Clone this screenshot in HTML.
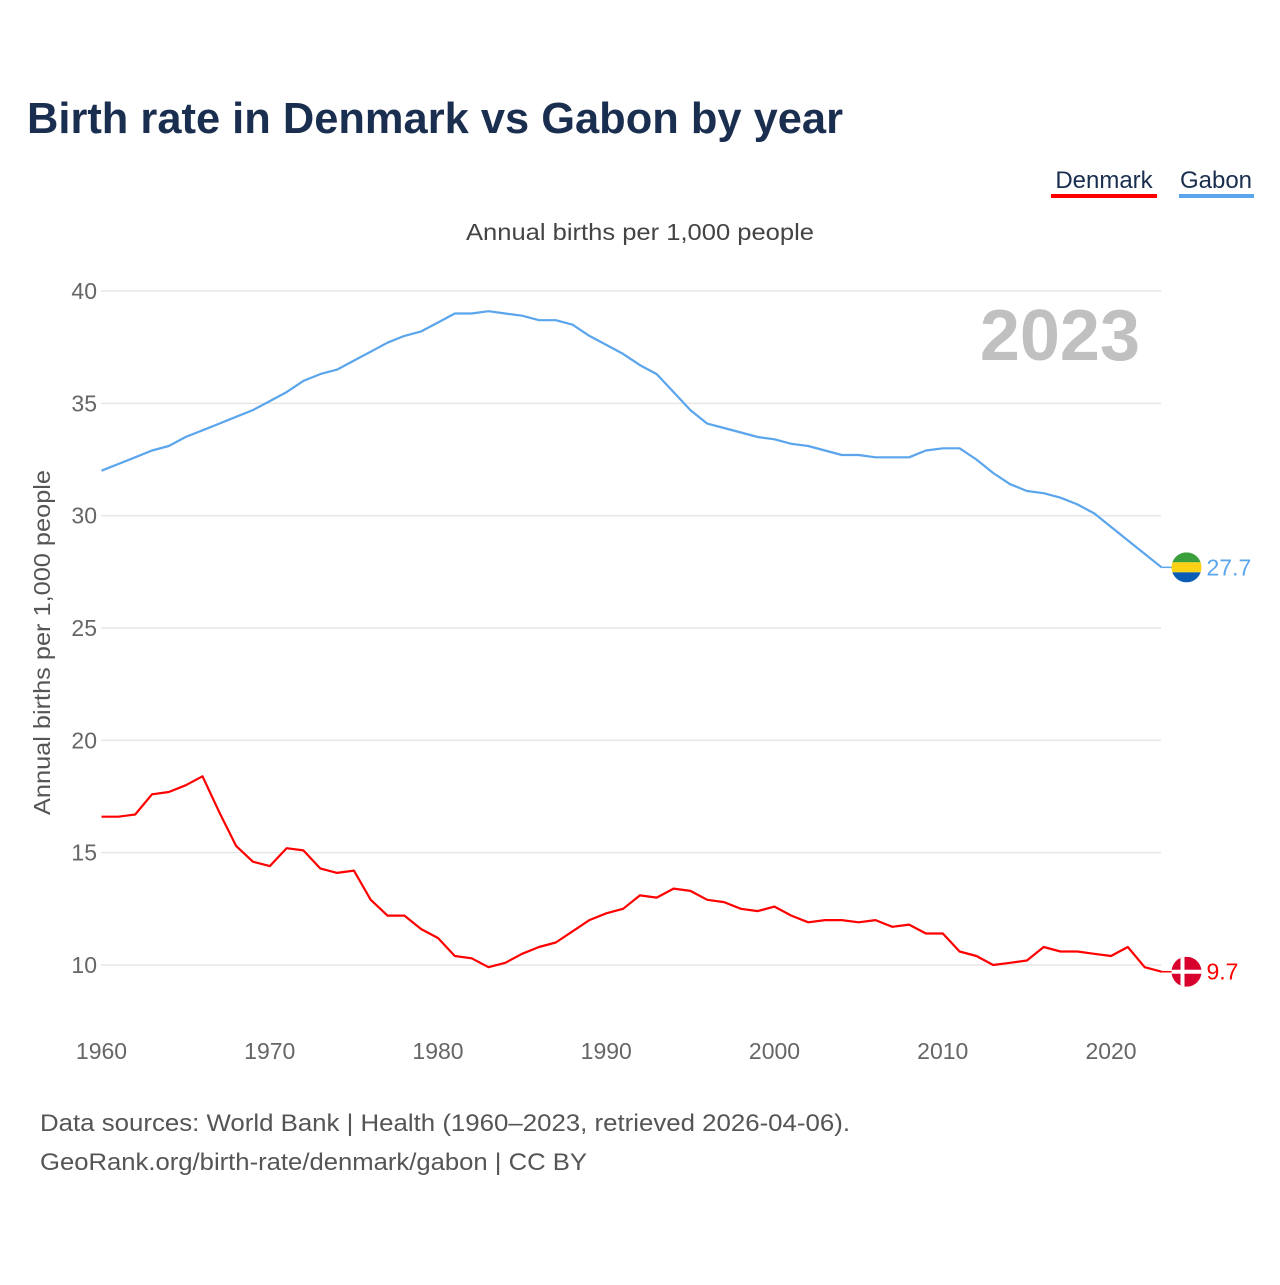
<!DOCTYPE html>
<html><head><meta charset="utf-8">
<style>
body{margin:0;background:#fff;font-family:"Liberation Sans",sans-serif;}
svg text{font-family:"Liberation Sans",sans-serif;}
</style></head>
<body>
<svg id="chart" width="1280" height="1280" xmlns="http://www.w3.org/2000/svg">
<text x="27" y="133" font-size="44" font-weight="bold" fill="#1a2e4f" textLength="816" lengthAdjust="spacingAndGlyphs">Birth rate in Denmark vs Gabon by year</text>
<g>
<text x="1104" y="188" font-size="24" fill="#1a2e4f" text-anchor="middle">Denmark</text>
<rect x="1051" y="194" width="106" height="4" fill="#ff0000"/>
<text x="1216" y="188" font-size="24" fill="#1a2e4f" text-anchor="middle">Gabon</text>
<rect x="1179" y="194" width="75" height="4" fill="#5aa5ec"/>
</g>
<text x="466" y="240" font-size="23" fill="#444" textLength="348" lengthAdjust="spacingAndGlyphs">Annual births per 1,000 people</text>
<text x="1140" y="360" font-size="72" font-weight="bold" fill="#c0c0c0" text-anchor="end">2023</text>
<text transform="translate(50,815) rotate(-90)" font-size="23" fill="#555" textLength="345" lengthAdjust="spacingAndGlyphs">Annual births per 1,000 people</text>
<g id="grid"></g><g id="yt"></g><g id="xt"></g><g id="lines"></g>
<text x="40" y="1131" font-size="24" fill="#555" textLength="810" lengthAdjust="spacingAndGlyphs">Data sources: World Bank | Health (1960–2023, retrieved 2026-04-06).</text>
<text x="40" y="1170" font-size="24" fill="#555" textLength="547" lengthAdjust="spacingAndGlyphs">GeoRank.org/birth-rate/denmark/gabon | CC BY</text>
</svg>
<script>
const years=[];for(let y=1960;y<=2023;y++)years.push(y);
const gabon=[32.0,32.3,32.6,32.9,33.1,33.5,33.8,34.1,34.4,34.7,35.1,35.5,36.0,36.3,36.5,36.9,37.3,37.7,38.0,38.2,38.6,39.0,39.0,39.1,39.0,38.9,38.7,38.7,38.5,38.0,37.6,37.2,36.7,36.3,35.5,34.7,34.1,33.9,33.7,33.5,33.4,33.2,33.1,32.9,32.7,32.7,32.6,32.6,32.6,32.9,33.0,33.0,32.5,31.9,31.4,31.1,31.0,30.8,30.5,30.1,29.5,28.9,28.3,27.7];
const denmark=[16.6,16.6,16.7,17.6,17.7,18.0,18.4,16.8,15.3,14.6,14.4,15.2,15.1,14.3,14.1,14.2,12.9,12.2,12.2,11.6,11.2,10.4,10.3,9.9,10.1,10.5,10.8,11.0,11.5,12.0,12.3,12.5,13.1,13.0,13.4,13.3,12.9,12.8,12.5,12.4,12.6,12.2,11.9,12.0,12.0,11.9,12.0,11.7,11.8,11.4,11.4,10.6,10.4,10.0,10.1,10.2,10.8,10.6,10.6,10.5,10.4,10.8,9.9,9.7];
const yTicks=[10,15,20,25,30,35,40];
const xTicks=[1960,1970,1980,1990,2000,2010,2020];
const NS="http://www.w3.org/2000/svg";
const X=y=>101.5+(y-1960)*(1161.5-101.5)/63;
const Y=v=>965-(v-10)*(965-291)/30;
function mk(t,a,p){const e=document.createElementNS(NS,t);for(const k in a)e.setAttribute(k,a[k]);document.getElementById(p).appendChild(e);return e;}
yTicks.forEach(v=>{
 const l=mk('line',{x1:101,x2:1161,y1:Y(v),y2:Y(v),stroke:'#e6e6e6','stroke-width':1.5},'grid');
 
 
 const t=mk('text',{x:97,y:Y(v)+8,'font-size':23,fill:'#666','text-anchor':'end'},'yt');
 t.textContent=v;
 
 
});
xTicks.forEach(v=>{
 const t=mk('text',{x:X(v),y:1059,'font-size':23,fill:'#666','text-anchor':'middle'},'xt');
 t.textContent=v;
 
 
});
function series(vals,color,name,flag){
 const d=vals.map((v,i)=>(i?'L':'M')+X(years[i]).toFixed(1)+','+Y(v).toFixed(1)).join('');
 const p=mk('path',{d:d,fill:'none',stroke:color,'stroke-width':2.2,'stroke-linejoin':'round'},'lines');
 
 
 const last=vals[vals.length-1],ly=Y(last),lx=X(years[years.length-1]);
 mk('line',{x1:lx,x2:lx+12,y1:ly,y2:ly,stroke:color,'stroke-width':1.5},'lines');
 const g=mk('g',{},'lines');
 
 
 const cx=lx+25;
 const cp='cp-'+name;
 const defs=document.createElementNS(NS,'clipPath');defs.setAttribute('id',cp);
 const c=document.createElementNS(NS,'circle');c.setAttribute('cx',cx);c.setAttribute('cy',ly);c.setAttribute('r',15);defs.appendChild(c);g.appendChild(defs);
 flag.forEach(r=>{const e=document.createElementNS(NS,'rect');e.setAttribute('x',cx-15+r[0]);e.setAttribute('y',ly-15+r[1]);e.setAttribute('width',r[2]);e.setAttribute('height',r[3]);e.setAttribute('fill',r[4]);e.setAttribute('clip-path','url(#'+cp+')');g.appendChild(e);});
 const t=mk('text',{x:cx+20,y:ly+8,'font-size':23,fill:color},'lines');
 t.textContent=last;
 
 
}
series(gabon,'#5aa5ec','gabon',[[0,0,30,10,'#3a9e3a'],[0,10,30,10,'#fcd116'],[0,20,30,10,'#0a5cb5']]);
series(denmark,'#ff0000','denmark',[[0,0,30,30,'#d8002c'],[9,0,4,30,'#fff'],[0,13,30,4,'#fff']]);
</script>
</body></html>
